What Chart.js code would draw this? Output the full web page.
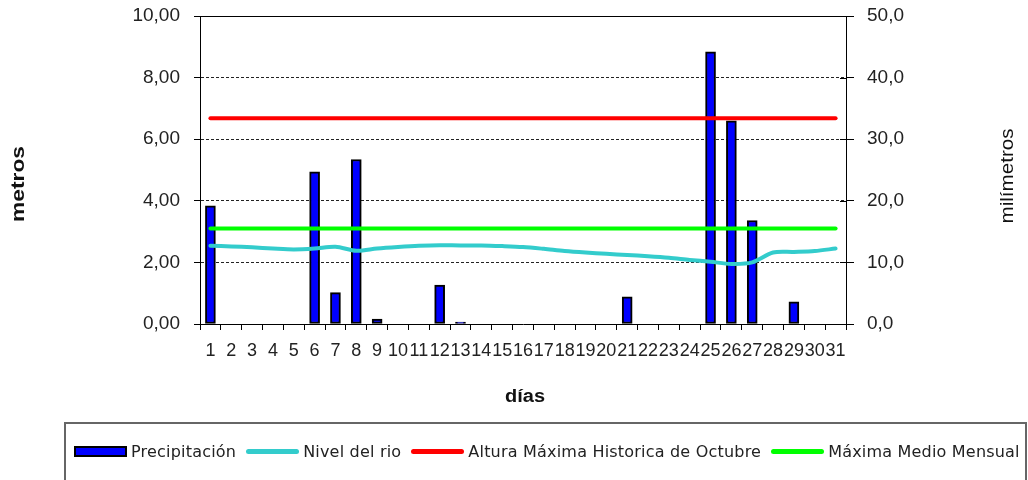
<!DOCTYPE html>
<html>
<head>
<meta charset="utf-8">
<script src="https://cdn.jsdelivr.net/npm/chart.js@4/dist/chart.umd.min.js"></script>
<style>
  html, body { margin: 0; padding: 0; background: #fff; }
  #wrap { position: relative; width: 1028px; height: 480px; overflow: hidden; }
  #chart { position: absolute; left: 0; top: 0; }
  #legend {
    position: absolute; left: 64px; top: 422px; width: 963px; height: 80px;
    border: 2px solid #666; box-sizing: border-box;
    display: flex; align-items: center;
    padding: 0 0 22px 8px;
    font-family: "DejaVu Sans", sans-serif; font-size: 16px; letter-spacing: 0.2px; color: #222;
    white-space: nowrap;
  }
  .item { display: flex; align-items: center; margin-right: 10px; }
  .sym { width: 53px; margin-right: 4px; box-sizing: border-box; }
</style>
</head>
<body>
<div id="wrap">
  <canvas id="chart" width="1028" height="480"></canvas>
  <div id="legend"></div>
</div>
<script>
// dias del mes
const dias = ["1","2","3","4","5","6","7","8","9","10","11","12","13","14","15","16",
  "17","18","19","20","21","22","23","24","25","26","27","28","29","30","31"]

// precipitacion en mm (eje derecho), null = sin lluvia
const precipitacion = [19.2, null, null, null, null, 24.7, 5.1, 26.7, 0.8, null, null, 6.3, 0.3, null, null, null,
  null, null, null, null, 4.4, null, null, null, 44.2, 33.0, 16.8, null, 3.6, null, null]

// nivel del rio en metros (eje izquierdo)
const nivelRio = [2.54, 2.52, 2.49, 2.45, 2.42, 2.45, 2.51, 2.38, 2.45, 2.50, 2.54, 2.56, 2.55, 2.55, 2.53, 2.50,
  2.44, 2.37, 2.32, 2.28, 2.24, 2.20, 2.15, 2.08, 2.02, 1.95, 2.00, 2.32, 2.34, 2.37, 2.45]

// referencias (metros)
const alturaMaximaHistorica = 6.68
const maximaMedioMensual = 3.10

const ticksMetros = [0, 2, 4, 6, 8, 10]
const ticksMilimetros = [0, 10, 20, 30, 40, 50]

const labelFont = { family: "Liberation Sans", size: 19 }

const frameAndTitles = {
  id: "frameAndTitles",
  afterDraw(chart) {
    const { ctx, chartArea, scales } = chart
    ctx.save()
    ctx.strokeStyle = "#000"
    ctx.lineWidth = 1
    // top line of the plot
    ctx.beginPath()
    ctx.moveTo(chartArea.left, chartArea.top + 0.5)
    ctx.lineTo(chartArea.right, chartArea.top + 0.5)
    ctx.stroke()
    // inner half of the right axis ticks
    scales.y1.ticks.forEach(t => {
      const y = Math.round(scales.y1.getPixelForValue(t.value)) + 0.5
      ctx.beginPath()
      ctx.moveTo(chartArea.right - 6, y)
      ctx.lineTo(chartArea.right, y)
      ctx.stroke()
    })

    ctx.fillStyle = "#111"
    ctx.textAlign = "center"
    ctx.textBaseline = "middle"
    const title = (text, font, x, y, rot, targetWidth) => {
      ctx.save()
      ctx.font = font
      ctx.translate(x, y)
      ctx.rotate(rot)
      ctx.scale(targetWidth / ctx.measureText(text).width, 1)
      ctx.fillText(text, 0, 0)
      ctx.restore()
    }
    title("metros", "bold 18px 'Liberation Sans'", 19, 184, -Math.PI / 2, 76)
    title("milímetros", "18px 'Liberation Sans'", 1008, 176, -Math.PI / 2, 95)
    title("días", "bold 18px 'Liberation Sans'", 525, 397, 0, 40)
    ctx.restore()
  }
}

const noPad = s => { s.paddingTop = 0; s.paddingBottom = 0 }

const chart = new Chart(document.getElementById("chart"), {
  type: "bar",
  data: {
    labels: dias,
    datasets: [
      {
        label: "Precipitación",
        data: precipitacion,
        yAxisID: "y1",
        backgroundColor: "#0000ff",
        borderColor: "#000",
        borderWidth: 2,
        borderSkipped: false,
        barThickness: 10,
        order: 2,
      },
      {
        label: "Nivel del rio",
        type: "line",
        data: nivelRio,
        yAxisID: "y",
        borderColor: "#33cccc",
        borderWidth: 4,
        pointRadius: 0,
        tension: 0.3,
        borderCapStyle: "round",
        order: 1,
      },
      {
        label: "Altura Máxima Historica de Octubre",
        type: "line",
        data: dias.map(() => alturaMaximaHistorica),
        yAxisID: "y",
        borderColor: "#ff0000",
        borderWidth: 4,
        pointRadius: 0,
        borderCapStyle: "round",
        order: 1,
      },
      {
        label: "Máxima Medio Mensual",
        type: "line",
        data: dias.map(() => maximaMedioMensual),
        yAxisID: "y",
        borderColor: "#00ff00",
        borderWidth: 4,
        pointRadius: 0,
        borderCapStyle: "round",
        order: 1,
      },
    ],
  },
  options: {
    responsive: false,
    animation: false,
    devicePixelRatio: 1,
    layout: { padding: { top: 16, left: 0, right: 0, bottom: 0 } },
    plugins: { legend: { display: false }, tooltip: { enabled: false } },
    scales: {
      x: {
        offset: true,
        grid: { offset: true, drawOnChartArea: false, drawTicks: true, tickLength: 6, color: "#000" },
        border: { color: "#000", width: 1 },
        ticks: {
          autoSkip: false, maxRotation: 0, minRotation: 0, padding: 10,
          color: "#222", font: { family: "Liberation Sans", size: 18 },
        },
        afterFit(s) { s.height = 156; s.paddingLeft = 0; s.paddingRight = 0 },
      },
      y: {
        position: "left",
        min: 0,
        max: 10,
        afterBuildTicks(s) { s.ticks = ticksMetros.map(v => ({ value: v })) },
        ticks: {
          padding: 14, color: "#222", font: labelFont,
          callback: v => v.toFixed(2).replace(".", ","),
        },
        grid: {
          color: c => (c.tick && (c.tick.value === 0 || c.tick.value === 10)) ? "rgba(0,0,0,0)" : "#222",
          tickColor: "#000",
          tickLength: 6,
        },
        border: { color: "#000", width: 1, dash: [3, 2] },
        afterFit(s) { s.width = 200; noPad(s) },
      },
      y1: {
        position: "right",
        min: 0,
        max: 50,
        afterBuildTicks(s) { s.ticks = ticksMilimetros.map(v => ({ value: v })) },
        ticks: {
          padding: 13, color: "#222", font: labelFont,
          callback: v => v.toFixed(1).replace(".", ","),
        },
        grid: { drawOnChartArea: false, color: "#000", tickLength: 8 },
        border: { color: "#000", width: 1 },
        afterFit(s) { s.width = 182; noPad(s) },
      },
    },
  },
  plugins: [frameAndTitles],
})

// leyenda
const legend = document.getElementById("legend")
chart.data.datasets.forEach(ds => {
  const item = document.createElement("div")
  item.className = "item"
  const sym = document.createElement("span")
  sym.className = "sym"
  if (ds.type === "line") {
    sym.style.height = "5px"
    sym.style.borderRadius = "3px"
    sym.style.background = ds.borderColor
  } else {
    sym.style.height = "11px"
    sym.style.background = ds.backgroundColor
    sym.style.border = "2px solid #000"
  }
  const txt = document.createElement("span")
  txt.textContent = ds.label
  item.appendChild(sym)
  item.appendChild(txt)
  legend.appendChild(item)
})
</script>
</body>
</html>
